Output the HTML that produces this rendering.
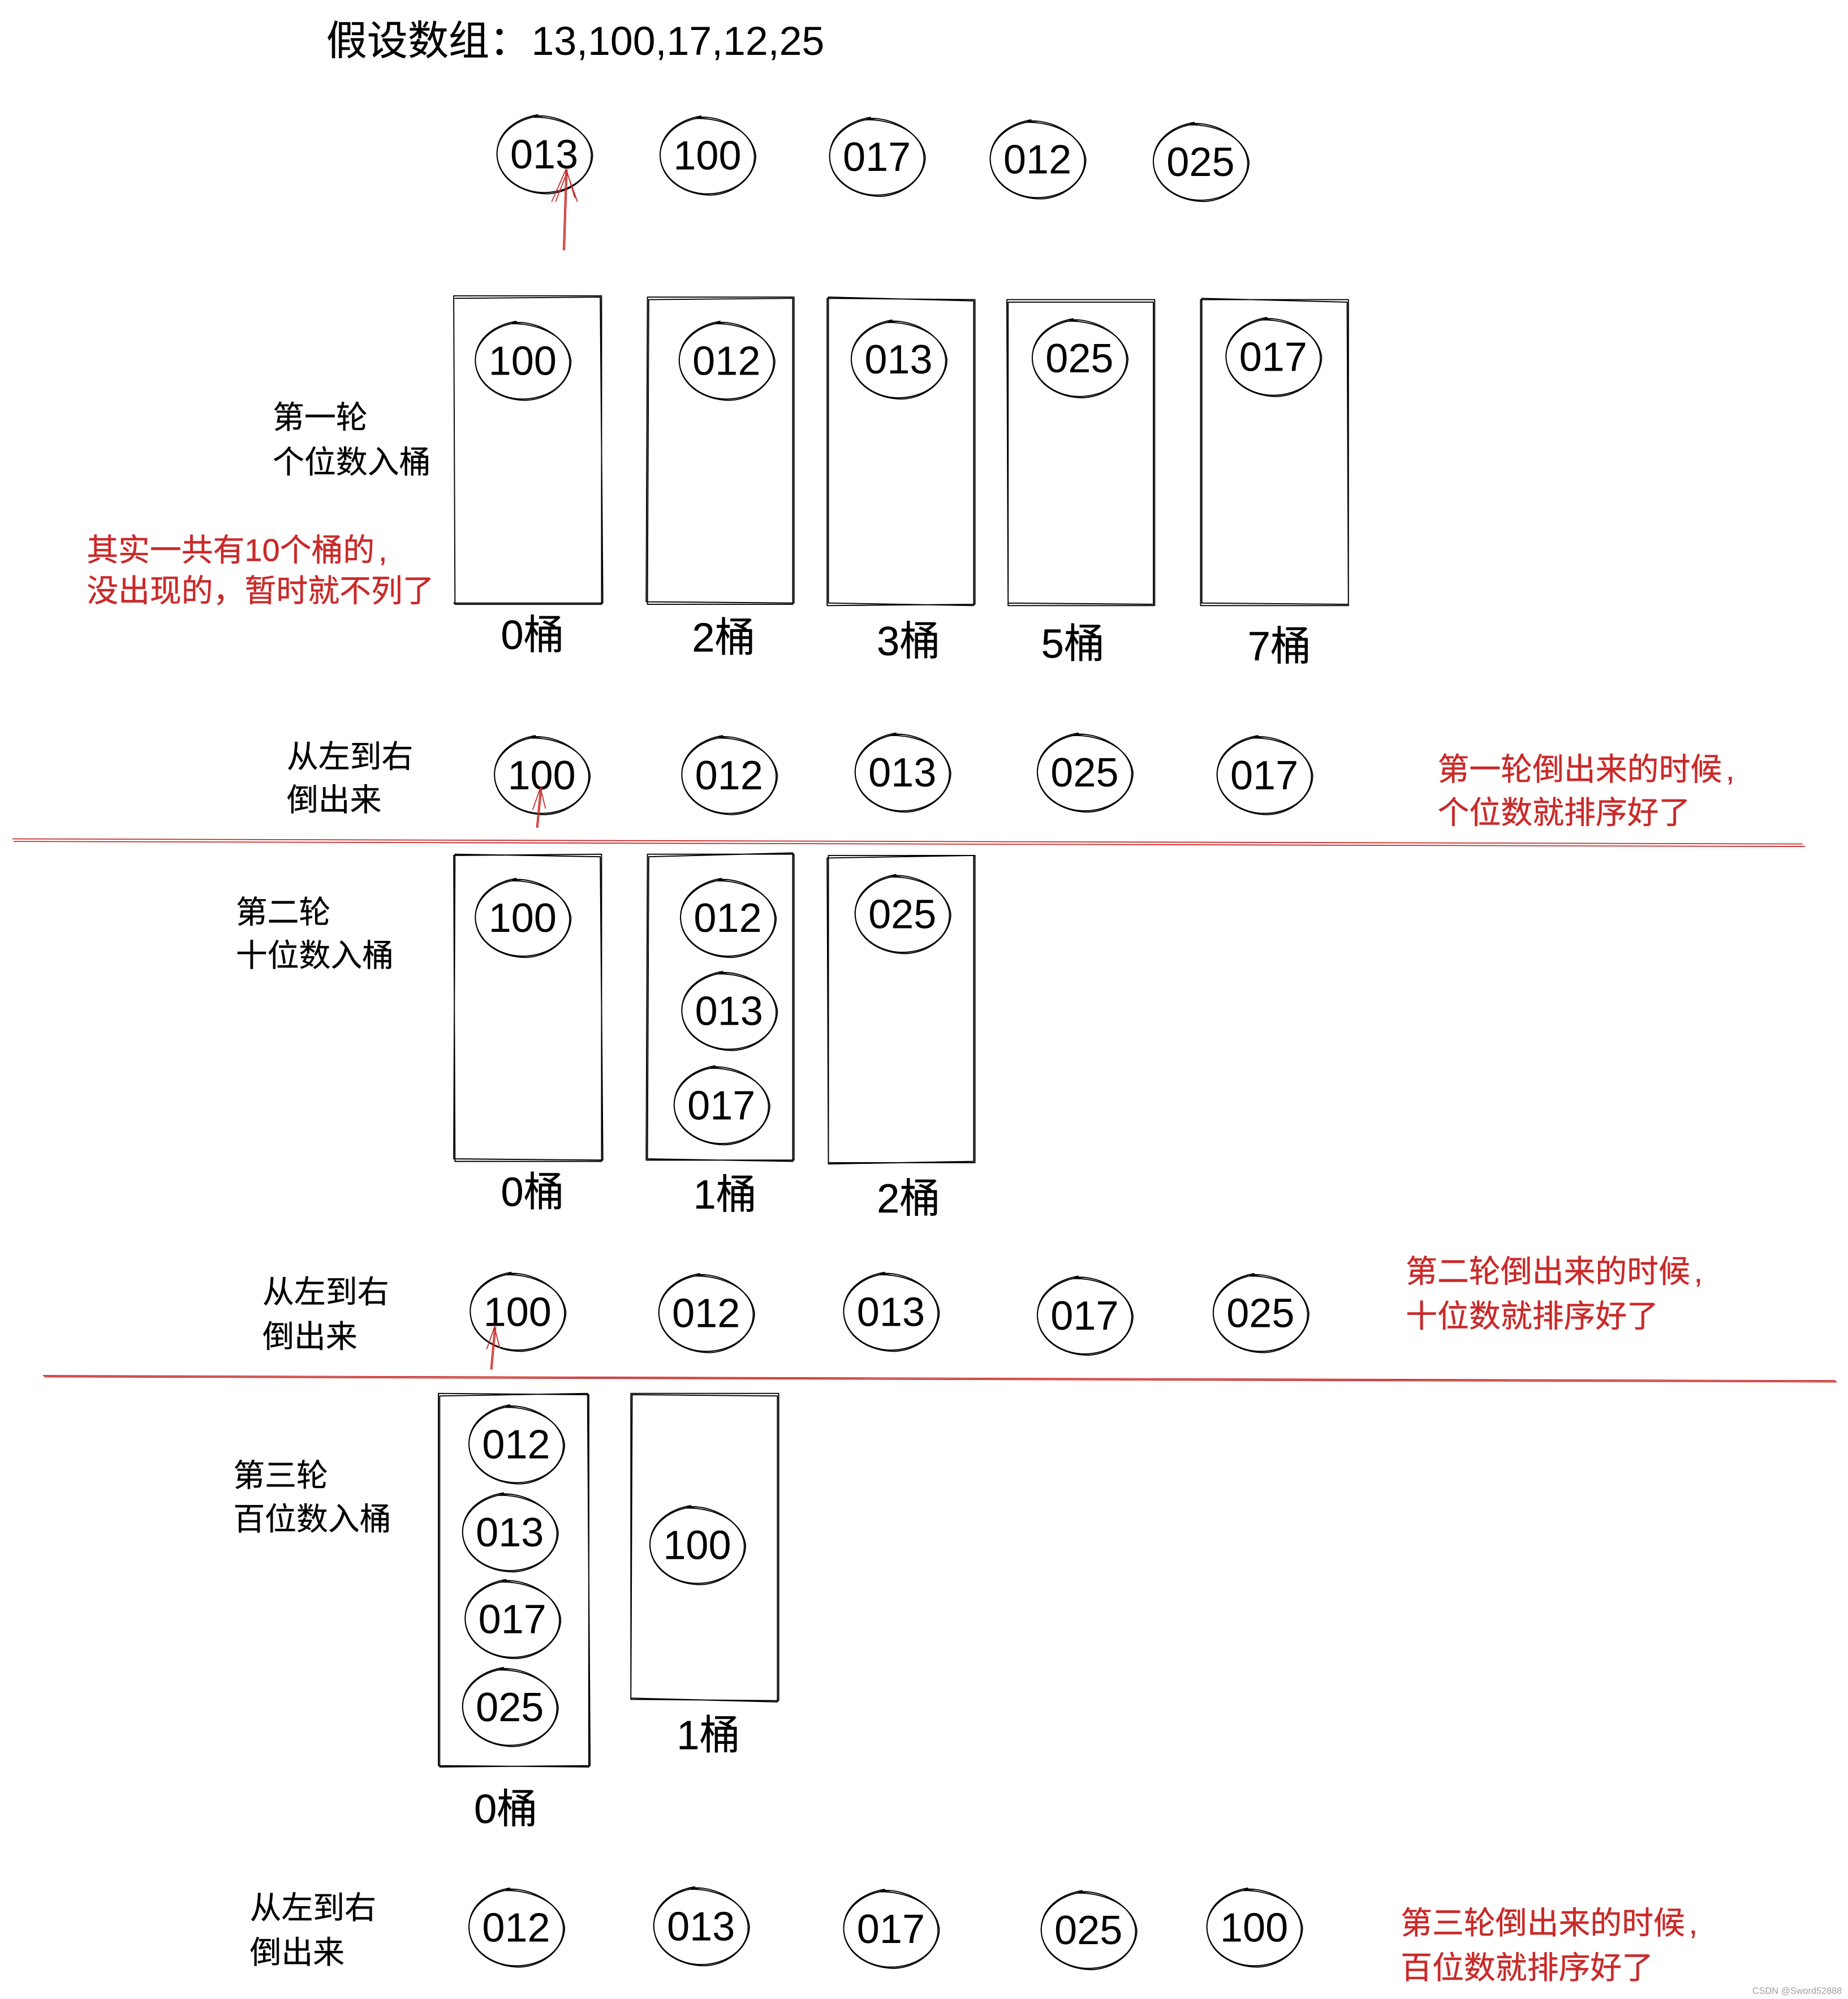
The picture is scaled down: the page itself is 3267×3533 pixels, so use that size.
<!DOCTYPE html>
<html lang="zh">
<head>
<meta charset="utf-8">
<title>基数排序</title>
<style>
html,body{margin:0;padding:0;background:#fff;width:3267px;height:3533px;overflow:hidden}
svg{display:block;position:absolute;left:0;top:0}
text{font-family:"Liberation Sans","Noto Sans CJK SC",sans-serif;fill:#000}
.n{font-size:32px;text-anchor:middle}
.b{font-size:32px;stroke:#000;stroke-width:.15}
.c{font-size:24.8px;stroke:#000;stroke-width:.15}
.r{font-size:24.8px;fill:#c92a2a;stroke:#c92a2a;stroke-width:.2}
.k{fill:none;stroke:#000;stroke-width:.85;stroke-linejoin:round;stroke-linecap:round}
.l{fill:none;stroke:#c92a2a;stroke-width:.8;stroke-linecap:round}
</style>
</head>
<body>
<svg xmlns="http://www.w3.org/2000/svg" width="3267" height="3533" viewBox="0 0 1450 1568">
<defs>
<g id="o" class="k">
<path d="M-8,-30C12,-32 37,-18 37,1C37,18 20,30 0,30C-20,30 -38,16 -37,-2C-36,-18 -22,-28 -5,-31"/>
<path d="M-10,-29C10,-30 35,-21 38,0C38,15 23,30 3,31C-18,31 -36,19 -37,1C-38,-16 -20,-30 0,-30"/>
</g>
</defs>
<rect width="1450" height="1568" fill="#fff"/>

<text x="256" y="43" style="font-size:32px;stroke:#000;stroke-width:.15">假设数组：</text>
<text x="417" y="43" style="font-size:31.8px">13,100,17,12,25</text>

<g transform="translate(427,121)"><use href="#o"/><text class="n" y="11">013</text></g>
<g transform="translate(555,122)"><use href="#o"/><text class="n" y="11">100</text></g>
<g transform="translate(688,123)"><use href="#o"/><text class="n" y="11">017</text></g>
<g transform="translate(814,125)"><use href="#o"/><text class="n" y="11">012</text></g>
<g transform="translate(942,127)"><use href="#o"/><text class="n" y="11">025</text></g>
<path class="l" d="M442,196L444,133M443,196L445,133M433,158L444,133L453,158M436,158L445,135L451,155"/>

<!-- round 1 -->
<g class="k">
<path d="M356,232L472,232L472,474L357,474ZM357,234L471,233L473,473L356,473"/>
<path d="M508,233L623,233L623,473L507,472ZM509,235L622,234L622,474L508,474Z"/>
<path d="M649,234L765,235L765,474L649,475ZM650,233L764,236L764,475L650,473Z"/>
<path d="M790,235L906,235L906,475L791,475ZM791,237L905,237L905,474L791,473Z"/>
<path d="M942,235L1058,235L1058,475L942,475ZM943,234L1057,237L1058,474L943,473Z"/>
</g>
<g transform="translate(410,283)"><use href="#o"/><text class="n" y="11">100</text></g>
<g transform="translate(570,283)"><use href="#o"/><text class="n" y="11">012</text></g>
<g transform="translate(705,282)"><use href="#o"/><text class="n" y="11">013</text></g>
<g transform="translate(847,281)"><use href="#o"/><text class="n" y="11">025</text></g>
<g transform="translate(999,280)"><use href="#o"/><text class="n" y="11">017</text></g>
<text class="b" x="393" y="509">0桶</text>
<text class="b" x="543" y="511">2桶</text>
<text class="b" x="688" y="514">3桶</text>
<text class="b" x="817" y="516">5桶</text>
<text class="b" x="979" y="518">7桶</text>
<text class="c" x="214" y="336">第一轮</text>
<text class="c" x="214" y="371">个位数入桶</text>
<text class="r" x="68" y="440">其实一共有10个桶的<tspan dx="3">,</tspan></text>
<text class="r" x="68" y="472">没出现的，暂时就不列了</text>
<text class="c" x="225" y="602">从左到右</text>
<text class="c" x="225" y="636">倒出来</text>
<g transform="translate(425,608)"><use href="#o"/><text class="n" y="11">100</text></g>
<g transform="translate(572,608)"><use href="#o"/><text class="n" y="11">012</text></g>
<g transform="translate(708,606)"><use href="#o"/><text class="n" y="11">013</text></g>
<g transform="translate(851,606)"><use href="#o"/><text class="n" y="11">025</text></g>
<g transform="translate(992,608)"><use href="#o"/><text class="n" y="11">017</text></g>
<path class="l" d="M421,649L424,618M422,649L425,618M418,635L424,618L428,634"/>
<text class="r" x="1128" y="612">第一轮倒出来的时候<tspan dx="3">,</tspan></text>
<text class="r" x="1128" y="646">个位数就排序好了</text>
<path class="l" d="M10,658L1414,662M11,660L1416,664"/>

<!-- round 2 -->
<g class="k">
<path d="M356,671L472,670L472,911L357,911ZM357,670L471,672L473,910L356,909Z"/>
<path d="M508,670L623,670L623,910L507,910ZM509,672L622,669L622,911L508,909Z"/>
<path d="M650,671L765,671L765,912L650,912ZM649,673L764,671L764,911L650,913Z"/>
</g>
<g transform="translate(410,720)"><use href="#o"/><text class="n" y="11">100</text></g>
<g transform="translate(571,720)"><use href="#o"/><text class="n" y="11">012</text></g>
<g transform="translate(572,793)"><use href="#o"/><text class="n" y="11">013</text></g>
<g transform="translate(566,867)"><use href="#o"/><text class="n" y="11">017</text></g>
<g transform="translate(708,717)"><use href="#o"/><text class="n" y="11">025</text></g>
<text class="b" x="393" y="946">0桶</text>
<text class="b" x="544" y="948">1桶</text>
<text class="b" x="688" y="951">2桶</text>
<text class="c" x="185" y="724">第二轮</text>
<text class="c" x="185" y="758">十位数入桶</text>
<text class="c" x="206" y="1022">从左到右</text>
<text class="c" x="206" y="1057">倒出来</text>
<g transform="translate(406,1029)"><use href="#o"/><text class="n" y="11">100</text></g>
<g transform="translate(554,1030)"><use href="#o"/><text class="n" y="11">012</text></g>
<g transform="translate(699,1029)"><use href="#o"/><text class="n" y="11">013</text></g>
<g transform="translate(851,1032)"><use href="#o"/><text class="n" y="11">017</text></g>
<g transform="translate(989,1030)"><use href="#o"/><text class="n" y="11">025</text></g>
<path class="l" d="M385,1074L388,1041M386,1074L389,1041M382,1058L388,1041L392,1057"/>
<text class="r" x="1103" y="1006">第二轮倒出来的时候<tspan dx="3">,</tspan></text>
<text class="r" x="1103" y="1041">十位数就排序好了</text>
<path class="l" d="M34,1079L1440,1083M35,1080L1441,1084"/>

<!-- round 3 -->
<g class="k">
<path d="M344,1093L462,1094L462,1386L344,1385ZM345,1095L461,1093L463,1385L345,1386Z"/>
<path d="M495,1093L611,1093L611,1334L495,1333ZM496,1094L610,1095L610,1335L495,1332Z"/>
</g>
<g transform="translate(405,1133)"><use href="#o"/><text class="n" y="11">012</text></g>
<g transform="translate(400,1202)"><use href="#o"/><text class="n" y="11">013</text></g>
<g transform="translate(402,1270)"><use href="#o"/><text class="n" y="11">017</text></g>
<g transform="translate(400,1339)"><use href="#o"/><text class="n" y="11">025</text></g>
<g transform="translate(547,1212)"><use href="#o"/><text class="n" y="11">100</text></g>
<text class="b" x="372" y="1430">0桶</text>
<text class="b" x="531" y="1372">1桶</text>
<text class="c" x="183" y="1166">第三轮</text>
<text class="c" x="183" y="1200">百位数入桶</text>
<text class="c" x="196" y="1505">从左到右</text>
<text class="c" x="196" y="1540">倒出来</text>
<g transform="translate(405,1512)"><use href="#o"/><text class="n" y="11">012</text></g>
<g transform="translate(550,1511)"><use href="#o"/><text class="n" y="11">013</text></g>
<g transform="translate(699,1513)"><use href="#o"/><text class="n" y="11">017</text></g>
<g transform="translate(854,1514)"><use href="#o"/><text class="n" y="11">025</text></g>
<g transform="translate(984,1512)"><use href="#o"/><text class="n" y="11">100</text></g>
<text class="r" x="1099" y="1517">第三轮倒出来的时候<tspan dx="3">,</tspan></text>
<text class="r" x="1099" y="1552">百位数就排序好了</text>
<text x="1375" y="1564" style="font-size:7.2px;fill:#a0a0a0">CSDN @Sword52888</text>
</svg>
</body>
</html>
